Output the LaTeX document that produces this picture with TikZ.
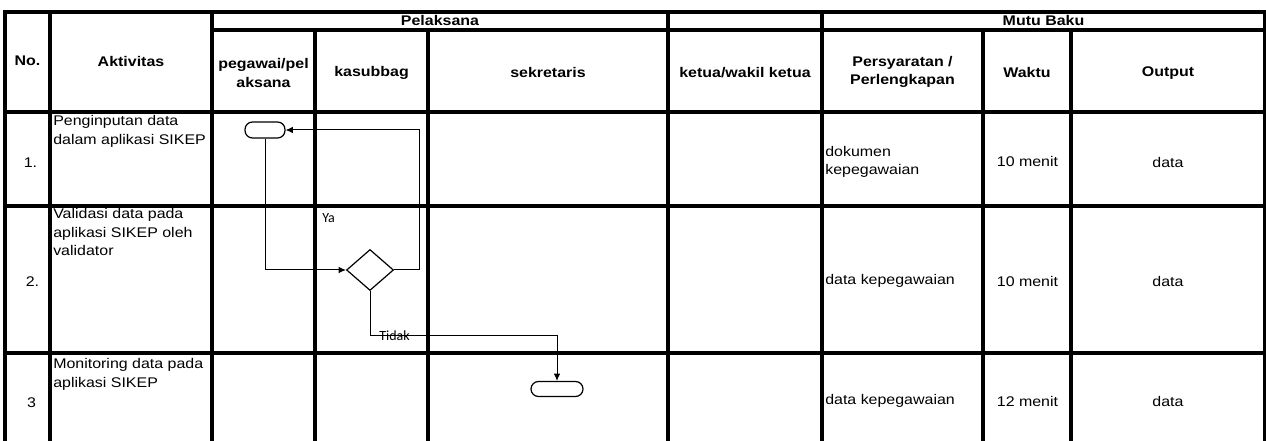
\documentclass[tikz,border=0pt]{standalone}
\usepackage{fontspec}
\setmainfont{Liberation Sans}[FakeStretch=1.14]
\newfontfamily\lblfont{Carlito}
\usetikzlibrary{shapes.geometric,arrows.meta}
\begin{document}
\begin{tikzpicture}[x=0.75pt,y=-0.75pt,
  font=\fontsize{10.5}{14}\selectfont,
  grid/.style={line width=2.3pt,line cap=rect},
  hd/.style={font=\fontsize{10.5}{14}\selectfont\bfseries,align=center,inner sep=0pt},
  cell/.style={align=left,inner sep=0pt},
  num/.style={inner sep=0pt},
  term/.style={draw,line width=0.9pt,rounded corners=5.6pt,inner sep=0pt},
  dec/.style={draw,diamond,line width=0.9pt,inner sep=0pt,minimum width=35.25pt,minimum height=30.75pt},
  flow/.style={line width=0.75pt},
  arr/.style={flow,-{Latex[length=5.5pt,width=5pt]}},
  lbl/.style={font=\lblfont\fontsize{10.5}{12}\selectfont,inner sep=0pt}
]
\useasboundingbox (0,0) rectangle (1266,441);
\fill[white] (0,0) rectangle (1266,441);
% table grid
\draw[grid] (5,12) -- (1265,12);
\draw[grid] (212,30) -- (1265,30);
\draw[grid] (5,112) -- (1265,112);
\draw[grid] (5,206) -- (1265,206);
\draw[grid] (5,353) -- (1265,353);
\foreach \xx in {5,50,212,668,822,1265} {\draw[grid] (\xx,12) -- (\xx,446);}
\foreach \xx in {315,428,983,1071} {\draw[grid] (\xx,30) -- (\xx,446);}
% headers
\node[hd] (hNo) at (27.5,61) {No.};
\node[hd] (hAkt) at (131,61) {Aktivitas};
\node[hd] (hPel) at (440,21) {Pelaksana};
\node[hd] (hMutu) at (1043.5,21) {Mutu Baku};
\node[hd] (hPeg) at (263.5,73) {pegawai/pel\\aksana};
\node[hd] (hKas) at (371.5,73) {kasubbag};
\node[hd] (hSek) at (548,73) {sekretaris};
\node[hd] (hKet) at (745,73) {ketua/wakil ketua};
\node[hd] (hPers) at (902.5,72) {Persyaratan /\\Perlengkapan};
\node[hd] (hWak) at (1027,73) {Waktu};
\node[hd] (hOut) at (1168,73) {Output};
% row 1
\node[num] (n1) at (30.5,163) {1.};
\node[cell,anchor=north west] (a1) at (53,115) {Penginputan data\\dalam aplikasi SIKEP};
\node[cell,anchor=west] (p1) at (825,162) {dokumen\\kepegawaian};
\node[num] (w1) at (1027.5,161) {10 menit};
\node[num] (o1) at (1168,162) {data};
% row 2
\node[num] (n2) at (32.5,282) {2.};
\node[cell,anchor=north west] (a2) at (53,208) {Validasi data pada\\aplikasi SIKEP oleh\\validator};
\node[cell,anchor=west] (p2) at (825,281) {data kepegawaian};
\node[num] (w2) at (1027.5,281) {10 menit};
\node[num] (o2) at (1168,281) {data};
% row 3
\node[num] (n3) at (31.5,403) {3};
\node[cell,anchor=north west] (a3) at (53,358) {Monitoring data pada\\aplikasi SIKEP};
\node[cell,anchor=west] (p3) at (825,401) {data kepegawaian};
\node[num] (w3) at (1027.5,401) {12 menit};
\node[num] (o3) at (1168,401) {data};
% flowchart
\node[term,minimum width=30pt,minimum height=12pt] (t1) at (265,130) {};
\node[dec] (d) at (370,270) {};
\node[term,minimum width=39pt,minimum height=11.25pt] (t2) at (557,389) {};
\coordinate (r) at (419.3,270);
\coordinate (c) at (370,335.5);
\draw[arr] (t1.south) |- (d.west);
\draw[arr] (d.east) -- (r) |- (t1.east);
\draw[arr] (d.south) -- (c) -| (t2.north);
\node[lbl,anchor=west] (ya) at (322,218) {Ya};
\node[lbl,anchor=west] (tidak) at (379,335.5) {Tidak};
\end{tikzpicture}
\end{document}
